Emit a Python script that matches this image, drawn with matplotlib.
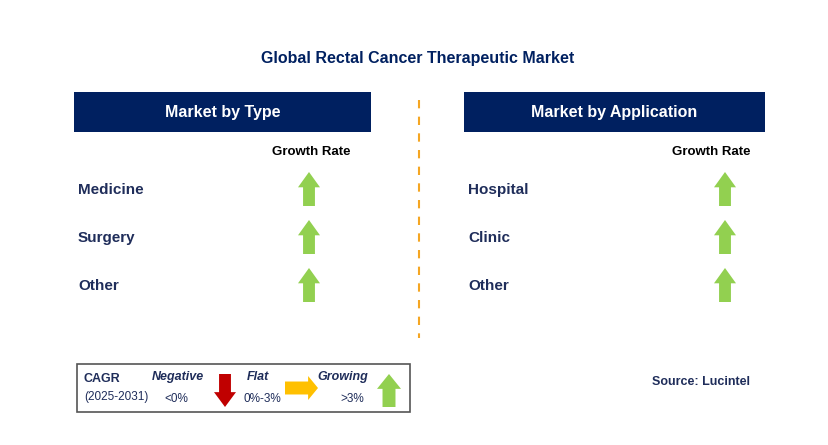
import matplotlib
matplotlib.use("Agg")
import matplotlib.pyplot as plt
from matplotlib.patches import Rectangle, Polygon

title = "Global Rectal Cancer Therapeutic Market"
type_cats = ["Medicine", "Surgery", "Other"]
type_growth = ["up", "up", "up"]
app_cats = ["Hospital", "Clinic", "Other"]
app_growth = ["up", "up", "up"]

NAVY = "#002060"
GREEN = "#92D050"
RED = "#C00000"
YELLOW = "#FFC000"
TXT = "#1F2D5A"

fig = plt.figure(figsize=(8.29, 4.45), dpi=100)
ax = fig.add_axes([0, 0, 1, 1])
ax.set_xlim(0, 829); ax.set_ylim(445, 0); ax.axis("off")
F = "Liberation Sans"

def up_arrow(cx, top, bot, w=22, color=GREEN):
    hw = w / 2; sw = w * 0.27; hh = (bot - top) * 0.45
    ax.add_patch(Polygon([(cx, top), (cx + hw, top + hh), (cx + sw, top + hh), (cx + sw, bot),
                          (cx - sw, bot), (cx - sw, top + hh), (cx - hw, top + hh)],
                         closed=True, color=color, lw=0))

def down_arrow(cx, top, bot, w=22, color=RED):
    hw = w / 2; sw = w * 0.27; hh = (bot - top) * 0.45
    ax.add_patch(Polygon([(cx, bot), (cx + hw, bot - hh), (cx + sw, bot - hh), (cx + sw, top),
                          (cx - sw, top), (cx - sw, bot - hh), (cx - hw, bot - hh)],
                         closed=True, color=color, lw=0))

def right_arrow(left, right, cy, h=22, color=YELLOW):
    hh = h / 2; sh = h * 0.27; hl = (right - left) * 0.3
    ax.add_patch(Polygon([(right, cy), (right - hl, cy - hh), (right - hl, cy - sh), (left, cy - sh),
                          (left, cy + sh), (right - hl, cy + sh), (right - hl, cy + hh)],
                         closed=True, color=color, lw=0))

ax.text(418, 58, title, ha="center", va="center", fontsize=11.5, fontweight="bold", color=NAVY, family=F)
ax.plot([419, 419], [100, 338], color="#F5A623", lw=1.5, ls=(0, (4, 4)))

def panel(x0, x1, header, cats, growth, arrow_x, gr_x):
    ax.add_patch(Rectangle((x0, 92), x1 - x0, 40, color=NAVY, lw=0))
    ax.text((x0 + x1) / 2, 112, header, ha="center", va="center", fontsize=11.5,
            fontweight="bold", color="white", family=F)
    ax.text(gr_x, 152, "Growth Rate", ha="center", va="center", fontsize=9.5,
            fontweight="bold", color="black", family=F)
    for i, (c, g) in enumerate(zip(cats, growth)):
        y = 190 + i * 48
        ax.text(x0 + 4, y, c, ha="left", va="center", fontsize=11, fontweight="bold", color=TXT, family=F)
        if g == "up":
            up_arrow(arrow_x, y - 18, y + 16)

panel(74, 371, "Market by Type", type_cats, type_growth, 309, 311)
panel(464, 765, "Market by Application", app_cats, app_growth, 725, 711)

# legend
ax.add_patch(Rectangle((77, 364), 333, 48, fill=False, ec="#555555", lw=1.2))
ax.text(84, 379, "CAGR", fontsize=9, fontweight="bold", color=TXT, family=F, va="center")
ax.text(84, 397, "(2025-2031)", fontsize=8.5, color=TXT, family=F, va="center")
ax.text(178, 377, "Negative", fontsize=9, fontweight="bold", style="italic", color=TXT, family=F, ha="center", va="center")
ax.text(176, 399, "<0%", fontsize=8.5, color=TXT, family=F, ha="center", va="center")
down_arrow(225, 374, 407)
ax.text(258, 377, "Flat", fontsize=9, fontweight="bold", style="italic", color=TXT, family=F, ha="center", va="center")
ax.text(262, 399, "0%-3%", fontsize=8.5, color=TXT, family=F, ha="center", va="center")
right_arrow(285, 318, 388, h=24)
ax.text(343, 377, "Growing", fontsize=9, fontweight="bold", style="italic", color=TXT, family=F, ha="center", va="center")
ax.text(352, 399, ">3%", fontsize=8.5, color=TXT, family=F, ha="center", va="center")
up_arrow(389, 374, 407, w=24)

ax.text(750, 382, "Source: Lucintel", ha="right", va="center", fontsize=9, fontweight="bold", color=TXT, family=F)

fig.savefig("out.png", dpi=100)
